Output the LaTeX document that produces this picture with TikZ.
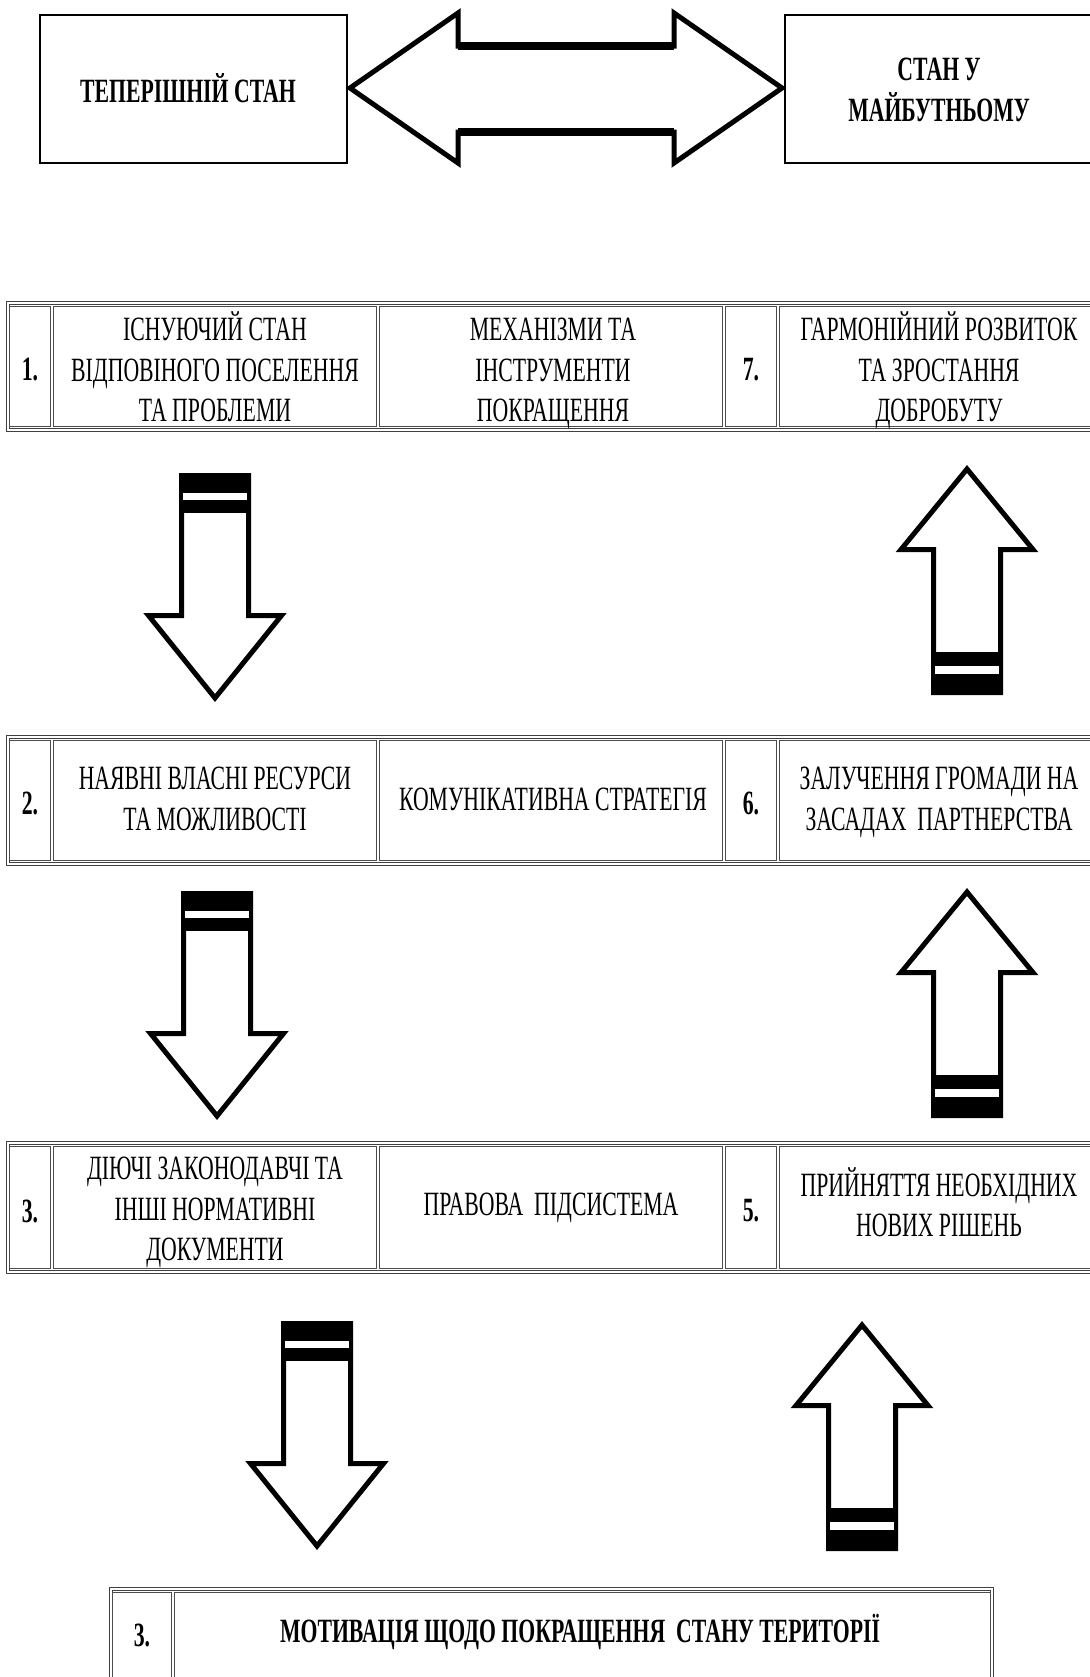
\documentclass[tikz,border=0pt]{standalone}
\usepackage{fontspec}
\setmainfont{Liberation Serif}[FakeStretch=0.64]

\begin{document}
\begin{tikzpicture}[x=0.5pt,y=-0.5pt,
  frame/.style={draw=black!75,double=white,double distance=0.8pt,line width=0.45pt},
  celline/.style={draw=black!70,line width=0.45pt},
  cell/.style={align=center,inner sep=0pt,font=\fontsize{17}{20.3}\selectfont,
    execute at begin node=\strut,execute at end node=\strut},
  num/.style={align=center,inner sep=0pt,font=\fontsize{17}{20.3}\selectfont\bfseries},
  blockarrow/.style={draw=black,line width=2.5pt,line join=miter,fill=white}]
  \useasboundingbox (0,0) rectangle (1089,1677);
  % top: present and future state
  \draw[line width=0.9pt] (40,15) rectangle (347,163);
  \draw[line width=0.9pt] (785,15) rectangle (1100,163);
  \node[num] (now) at (188,88) {ТЕПЕРІШНІЙ СТАН};
  \node[num] (future) at (939,90) {СТАН У\\МАЙБУТНЬОМУ};
  \draw[blockarrow] (350,88) -- (458,13) -- (458,46) -- (674,46) -- (674,13) -- (782,88)
        -- (674,163) -- (674,132) -- (458,132) -- (458,163) -- cycle;
  \draw[line width=4pt] (458,46) -- (674,46) (458,132) -- (674,132);
  % the three rows of the table
  \foreach \ytop/\ybot in {303/430,737/864,1143/1272}{%
    \draw[frame] (8,\ytop) rectangle (1100,\ybot);
    \foreach \xa/\xb in {8/52,52/378,378/724,724/778,778/1100}{%
      \draw[celline] (\xa+1.5,\ytop+3.5) rectangle (\xb-1.5,\ybot-3.5);
    }
  }
  \node[num]  (n1) at (30,370) {1.};
  \node[cell] (s1) at (215,373) {ІСНУЮЧИЙ СТАН\\ВІДПОВІНОГО ПОСЕЛЕННЯ\\ТА ПРОБЛЕМИ};
  \node[cell] (m1) at (553,376) {МЕХАНІЗМИ ТА\\ІНСТРУМЕНТИ\\ПОКРАЩЕННЯ};
  \node[num]  (n7) at (751,370) {7.};
  \node[cell] (s7) at (939,373) {ГАРМОНІЙНИЙ РОЗВИТОК\\ТА ЗРОСТАННЯ\\ДОБРОБУТУ};
  \node[num]  (n2) at (30,803) {2.};
  \node[cell] (s2) at (215,805) {НАЯВНІ ВЛАСНІ РЕСУРСИ\\ТА МОЖЛИВОСТІ};
  \node[cell] (m2) at (553,802) {КОМУНІКАТИВНА СТРАТЕГІЯ};
  \node[num]  (n6) at (751,803) {6.};
  \node[cell] (s6) at (939,805) {ЗАЛУЧЕННЯ ГРОМАДИ НА\\ЗАСАДАХ~ ПАРТНЕРСТВА};
  \node[num]  (n3) at (30,1211) {3.};
  \node[cell] (s3) at (215,1215) {ДІЮЧІ ЗАКОНОДАВЧІ ТА\\ІНШІ НОРМАТИВНІ\\ДОКУМЕНТИ};
  \node[cell] (m3) at (551,1207) {ПРАВОВА~ ПІДСИСТЕМА};
  \node[num]  (n5) at (751,1211) {5.};
  \node[cell] (s5) at (939,1208) {ПРИЙНЯТТЯ НЕОБХІДНИХ\\НОВИХ РІШЕНЬ};
  % down arrows (left side)
  \foreach \cx/\ytop in {215/473,217/891,317/1321}{%
    \draw[blockarrow] (\cx-33.5,\ytop+2.5) -- (\cx-33.5,\ytop+142.5) -- (\cx-66.5,\ytop+142.5)
          -- (\cx,\ytop+225) -- (\cx+66.5,\ytop+142.5) -- (\cx+33.5,\ytop+142.5)
          -- (\cx+33.5,\ytop+2.5) -- cycle;
    \fill (\cx-36,\ytop) rectangle (\cx+36,\ytop+40);
    \fill[white] (\cx-32,\ytop+20) rectangle (\cx+32,\ytop+27);
  }
  % up arrows (right side)
  \foreach \cx/\ytip in {967/465,967/888,862/1321}{%
    \draw[blockarrow] (\cx,\ytip+4) -- (\cx+66,\ytip+84.5) -- (\cx+33.5,\ytip+84.5)
          -- (\cx+33.5,\ytip+227.5) -- (\cx-33.5,\ytip+227.5) -- (\cx-33.5,\ytip+84.5)
          -- (\cx-66,\ytip+84.5) -- cycle;
    \fill (\cx-36,\ytip+187) rectangle (\cx+36,\ytip+230);
    \fill[white] (\cx-32,\ytip+201) rectangle (\cx+32,\ytip+209);
  }
  % bottom row
  \draw[frame] (111,1589) rectangle (992,1720);
  \draw[celline] (112.5,1592.5) rectangle (171.5,1720);
  \draw[celline] (174.5,1592.5) rectangle (990.5,1720);
  \node[num] (n8) at (142,1635) {3.};
  \node[num] (mot) at (580,1632) {МОТИВАЦІЯ ЩОДО ПОКРАЩЕННЯ~ СТАНУ ТЕРИТОРІЇ};
\end{tikzpicture}
\end{document}
